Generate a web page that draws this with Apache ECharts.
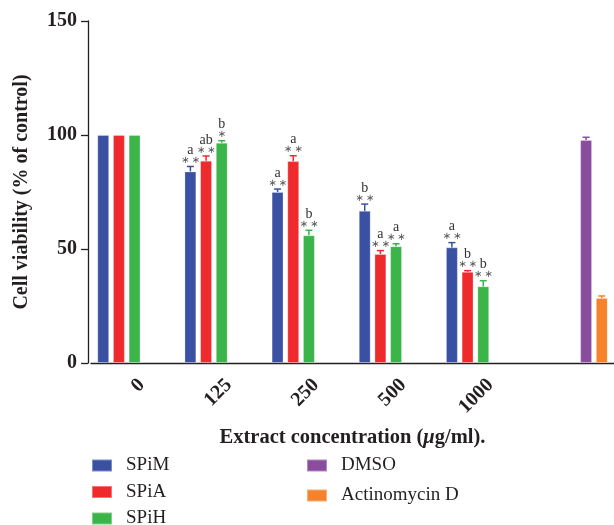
<!DOCTYPE html>
<html><head><meta charset="utf-8">
<script src="https://cdn.jsdelivr.net/npm/echarts@6/dist/echarts.min.js"></script>
<style>html,body{margin:0;padding:0;background:#fff}#c{width:614px;height:525px}</style>
</head><body><div id="c"></div>
<script>
// ---- data ----
const categories = ['0', '125', '250', '500', '1000', ''];
const seriesNames = ['SPiM', 'SPiA', 'SPiH', 'DMSO', 'Actinomycin D'];
const spimValues = [100, 84, 75, 66.7, 50.7, null];
const spiaValues = [100, 88.7, 88.5, 47.8, 40, null];
const spihValues = [100, 96.6, 56, 51.2, 33.6, null];
const dmsoValues = [null, null, null, null, null, 97.8];
const actdValues = [null, null, null, null, null, 28.5];
const spimErrors = [0, 2.2, 1.3, 3, 2.1, null];
const spiaErrors = [0, 2.1, 2.4, 1.5, 0.5, null];
const spihErrors = [0, 0.9, 2.2, 1.1, 2.5, null];
const dmsoErrors = [null, null, null, null, null, 1.2];
const actdErrors = [null, null, null, null, null, 0.9];
const spimStars = ['', '**', '**', '**', '**', ''];
const spiaStars = ['', '**', '**', '**', '**', ''];
const spihStars = ['', '*', '**', '**', '**', ''];
const spimLetters = ['', 'a', 'a', 'b', 'a', ''];
const spiaLetters = ['', 'ab', 'a', 'a', 'b', ''];
const spihLetters = ['', 'b', 'b', 'a', 'b', ''];
const noMarks = ['', '', '', '', '', ''];
const yTicks = [0, 50, 100, 150];

// ---- styling ----
const colors = ['#3a51a3', '#ee2a2d', '#3bb44a', '#8a4d9e', '#f4832b'];
const serif = 'Liberation Serif';
const ink = '#231f20';
const BAR_W = 11.7;
const BAR_GAP = '34%';

const valueSets = [spimValues, spiaValues, spihValues, dmsoValues, actdValues];
const errorSets = [spimErrors, spiaErrors, spihErrors, dmsoErrors, actdErrors];
const starSets = [spimStars, spiaStars, spihStars, noMarks, noMarks];
const letterSets = [spimLetters, spiaLetters, spihLetters, noMarks, noMarks];

const barSeries = seriesNames.map((name, i) => ({
  name, type: 'bar', data: valueSets[i], barWidth: BAR_W, barGap: BAR_GAP,
  itemStyle: { color: colors[i], borderColor: 'rgba(255,255,255,0.35)', borderWidth: 0.8 },
  emphasis: { disabled: true }, animation: false
}));

const errData = [];
valueSets.forEach((vals, s) => {
  vals.forEach((v, c) => {
    if (v == null) return;
    errData.push([c, v, errorSets[s][c] || 0, s, starSets[s][c], letterSets[s][c]]);
  });
});

const errSeries = {
  type: 'custom', name: 'err', data: errData, encode: { x: 0, y: 1 }, z: 5,
  silent: true, animation: false,
  renderItem: function (params, api) {
    const cat = api.value(0), val = api.value(1), err = api.value(2), slot = api.value(3);
    const d = errData[params.dataIndex];
    const stars = d[4], letter = d[5];
    const layout = api.barLayout({ count: 5, barWidth: BAR_W, barGap: BAR_GAP });
    const base = api.coord([cat, val]);
    const x = base[0] + layout[slot].offsetCenter;
    const top = api.coord([cat, val + err])[1];
    const color = colors[slot];
    const children = [];
    if (err > 0) {
      children.push({ type: 'line', shape: { x1: x, y1: base[1], x2: x, y2: top }, style: { stroke: color, lineWidth: 1.5 } });
      children.push({ type: 'line', shape: { x1: x - 3.5, y1: top, x2: x + 3.5, y2: top }, style: { stroke: color, lineWidth: 1.5 } });
    }
    if (stars) {
      children.push({ type: 'text', x: x, y: top - 6, style: {
        text: stars.split('').map(() => '\u2217').join('\u2009'), fill: '#555', font: '10px "DejaVu Sans"',
        align: 'center', verticalAlign: 'middle' } });
    }
    if (letter) {
      children.push({ type: 'text', x: x, y: top - 9, style: {
        text: letter, fill: '#333', font: '14px "' + serif + '"',
        align: 'center', verticalAlign: 'bottom' } });
    }
    return { type: 'group', children };
  }
};

const legendText = { fontFamily: serif, fontSize: 19, color: ink, padding: [0, 0, 0, 9], lineHeight: 18 };

const chart = echarts.init(document.getElementById('c'), null, { renderer: 'canvas' });
chart.setOption({
  backgroundColor: '#fff',
  animation: false,
  grid: { left: 91, right: 0, top: 21, bottom: 162, containLabel: false },
  legend: [
    { data: seriesNames.slice(0, 3), orient: 'vertical', left: 91, top: 456, height: 120, padding: 0,
      itemWidth: 20, itemHeight: 12, itemGap: 7.5, icon: 'rect', selectedMode: false, textStyle: legendText },
    { data: seriesNames.slice(3), orient: 'vertical', left: 306, top: 456, height: 120, padding: 0,
      itemWidth: 20, itemHeight: 12, itemGap: 11, icon: 'rect', selectedMode: false, textStyle: legendText }
  ],
  xAxis: {
    type: 'category', data: categories,
    name: '{b|Extract concentration (}{i|\u03bc}{b|g/ml).}', nameLocation: 'middle', nameGap: 64,
    nameTextStyle: { fontFamily: serif, fontWeight: 'bold', fontSize: 20, color: ink,
      rich: {
        b: { fontFamily: serif, fontWeight: 'bold', fontSize: 20.5, color: ink },
        i: { fontFamily: serif, fontWeight: 'bold', fontStyle: 'italic', fontSize: 20.5, color: ink }
      } },
    axisLine: { lineStyle: { color: ink, width: 1.3 } },
    axisTick: { alignWithLabel: true, length: 6, lineStyle: { color: ink, width: 1.3 } },
    axisLabel: { rotate: 45, margin: 12, verticalAlign: 'top', fontFamily: serif, fontWeight: 'bold', fontSize: 20, color: ink }
  },
  yAxis: {
    type: 'value', min: yTicks[0], max: yTicks[yTicks.length - 1], interval: 50, offset: 3,
    name: 'Cell viability (% of control)', nameLocation: 'middle', nameGap: 56,
    nameTextStyle: { fontFamily: serif, fontWeight: 'bold', fontSize: 20, color: ink },
    axisLine: { show: true, lineStyle: { color: ink, width: 1.3 } },
    axisTick: { show: true, length: 7, lineStyle: { color: ink, width: 1.3 } },
    axisLabel: { margin: 11, fontFamily: serif, fontWeight: 'bold', fontSize: 20, color: ink },
    splitLine: { show: false }
  },
  series: barSeries.concat([errSeries])
});
</script></body></html>
